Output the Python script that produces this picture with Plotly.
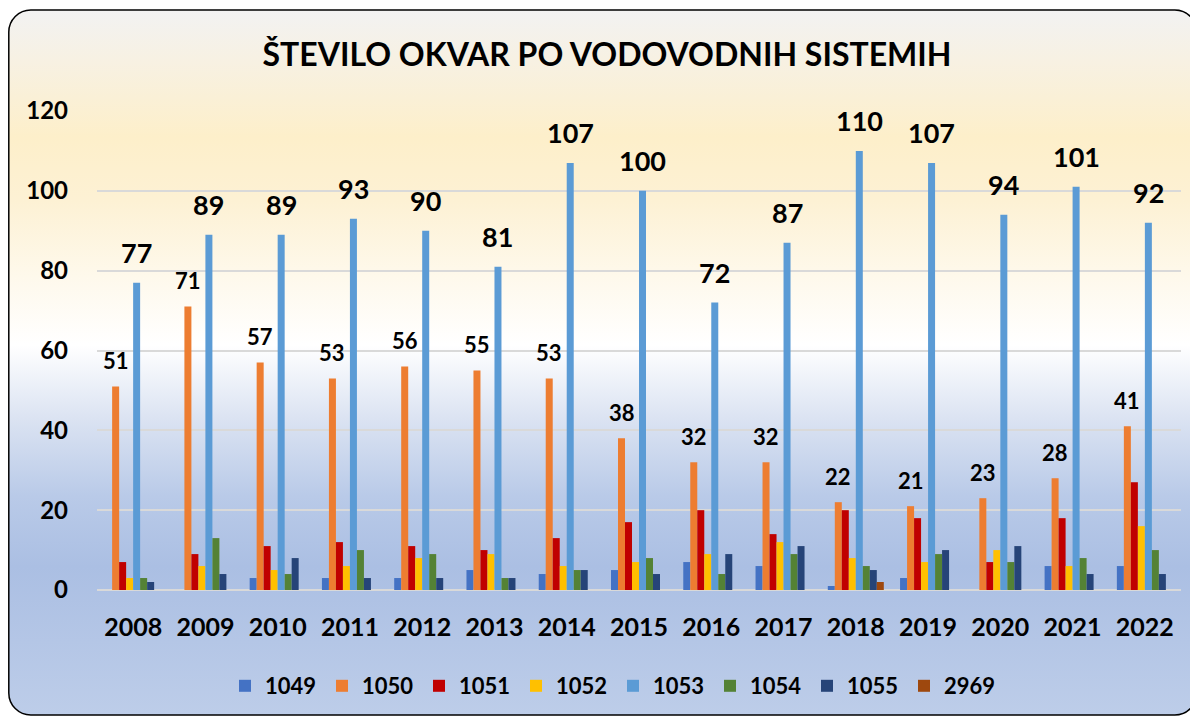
import base64
import plotly.graph_objects as go

years = ["2008", "2009", "2010", "2011", "2012", "2013", "2014", "2015",
         "2016", "2017", "2018", "2019", "2020", "2021", "2022"]
s1049 = [0, 0, 3, 3, 3, 5, 4, 5, 7, 6, 1, 3, 0, 6, 6]
s1050 = [51, 71, 57, 53, 56, 55, 53, 38, 32, 32, 22, 21, 23, 28, 41]
s1051 = [7, 9, 11, 12, 11, 10, 13, 17, 20, 14, 20, 18, 7, 18, 27]
s1052 = [3, 6, 5, 6, 8, 9, 6, 7, 9, 12, 8, 7, 10, 6, 16]
s1053 = [77, 89, 89, 93, 90, 81, 107, 100, 72, 87, 110, 107, 94, 101, 92]
s1054 = [3, 13, 4, 10, 9, 3, 5, 8, 4, 9, 6, 9, 7, 8, 10]
s1055 = [2, 4, 8, 3, 3, 3, 5, 4, 9, 11, 5, 10, 11, 4, 4]
s2969 = [0, 0, 0, 0, 0, 0, 0, 0, 0, 0, 2, 0, 0, 0, 0]

series_names = ["1049", "1050", "1051", "1052", "1053", "1054", "1055", "2969"]
series_values = [s1049, s1050, s1051, s1052, s1053, s1054, s1055, s2969]
colors = ["#4472c4", "#ed7d31", "#c00000", "#ffc000", "#5b9bd5", "#548235", "#264478", "#9e480e"]

title_text = "ŠTEVILO OKVAR PO VODOVODNIH SISTEMIH"

# page has an 8px body margin, so the figure fills the visible 1190x711 area
W, H = 1190, 711
ML, MR, MT, MB = 89, 17, 103, 129
PW, PH = W - ML - MR, H - MT - MB
BARGAP = 0.225
FONT = "Lato"

fig = go.Figure()
for name, vals, col in zip(series_names, series_values, colors):
    fig.add_trace(go.Bar(x=years, y=vals, name=name, marker_color=col,
                         marker_line_width=0))

# data labels for 1050 and 1053 (placed over their bar within the group)
nser = len(series_names)
slot = (1 - BARGAP) / nser
label_cfg = {"1050": (22, 26), "1053": (27, 30)}
for i, name in enumerate(series_names):
    if name not in label_cfg:
        continue
    fsize, yshift = label_cfg[name]
    off = (i - (nser - 1) / 2) * slot
    for j, v in enumerate(series_values[i]):
        fig.add_annotation(x=j + off, y=v, xref="x", yref="y", text=str(v),
                           showarrow=False, yshift=yshift, yanchor="middle",
                           font=dict(family=FONT, size=fsize, color="black", weight="bold"))

# background: rounded panel with vertical gradient
svg = f'''<svg xmlns="http://www.w3.org/2000/svg" width="{W}" height="{H}" viewBox="0 0 {W} {H}" preserveAspectRatio="none">
<defs><linearGradient id="g" x1="0" y1="0" x2="0" y2="1">
<stop offset="0" stop-color="#f2f2f2"/>
<stop offset="0.07" stop-color="#f7f1e3"/>
<stop offset="0.18" stop-color="#fdefca"/>
<stop offset="0.27" stop-color="#fdf1d4"/>
<stop offset="0.38" stop-color="#fef9ec"/>
<stop offset="0.475" stop-color="#ffffff"/>
<stop offset="0.58" stop-color="#dbe3f2"/>
<stop offset="0.69" stop-color="#b9cae8"/>
<stop offset="0.79" stop-color="#abbfe3"/>
<stop offset="1" stop-color="#bdcde9"/>
</linearGradient></defs>
<rect x="0.8" y="2" width="1188" height="705" rx="22" ry="22" fill="url(#g)" stroke="#000" stroke-width="1.5"/>
</svg>'''
src = "data:image/svg+xml;base64," + base64.b64encode(svg.encode()).decode()
fig.add_layout_image(source=src, xref="paper", yref="paper",
                     x=-ML / PW, y=(H - MB) / PH, sizex=W / PW, sizey=H / PH,
                     xanchor="left", yanchor="top", sizing="stretch", layer="below")

fig.update_layout(
    width=W, height=H,
    margin=dict(l=ML, r=MR, t=MT, b=MB),
    paper_bgcolor="white", plot_bgcolor="rgba(0,0,0,0)",
    barmode="group", bargap=BARGAP, bargroupgap=0,
    title=dict(text=title_text, x=599 / W, xref="container", xanchor="center",
               y=1 - 47 / H, yref="container", yanchor="middle",
               font=dict(family=FONT, size=32, color="black", weight="bold")),
    showlegend=True,
    legend=dict(orientation="h", x=(605 - ML) / PW, xanchor="center",
                y=-(678 - (H - MB)) / PH, yanchor="middle",
                font=dict(family=FONT, size=22, color="black", weight="bold"),
                bgcolor="rgba(0,0,0,0)", entrywidth=52, entrywidthmode="pixels",
                traceorder="normal"),
    font=dict(family=FONT, color="black"),
)
fig.update_xaxes(type="category", range=[-0.5, len(years) - 0.5],
                 showgrid=False, showline=False, ticks="",
                 tickfont=dict(family=FONT, size=25, color="black", weight="bold"),
                 ticklabelstandoff=20)
fig.update_yaxes(range=[0, 120], dtick=20, showgrid=True, gridcolor="#d9d9d9",
                 gridwidth=2, zeroline=True, zerolinecolor="#d9d9d9", zerolinewidth=2,
                 showline=False, ticks="",
                 tickfont=dict(family=FONT, size=24, color="black", weight="bold"),
                 ticklabelstandoff=28)

fig.write_html("out.html")
